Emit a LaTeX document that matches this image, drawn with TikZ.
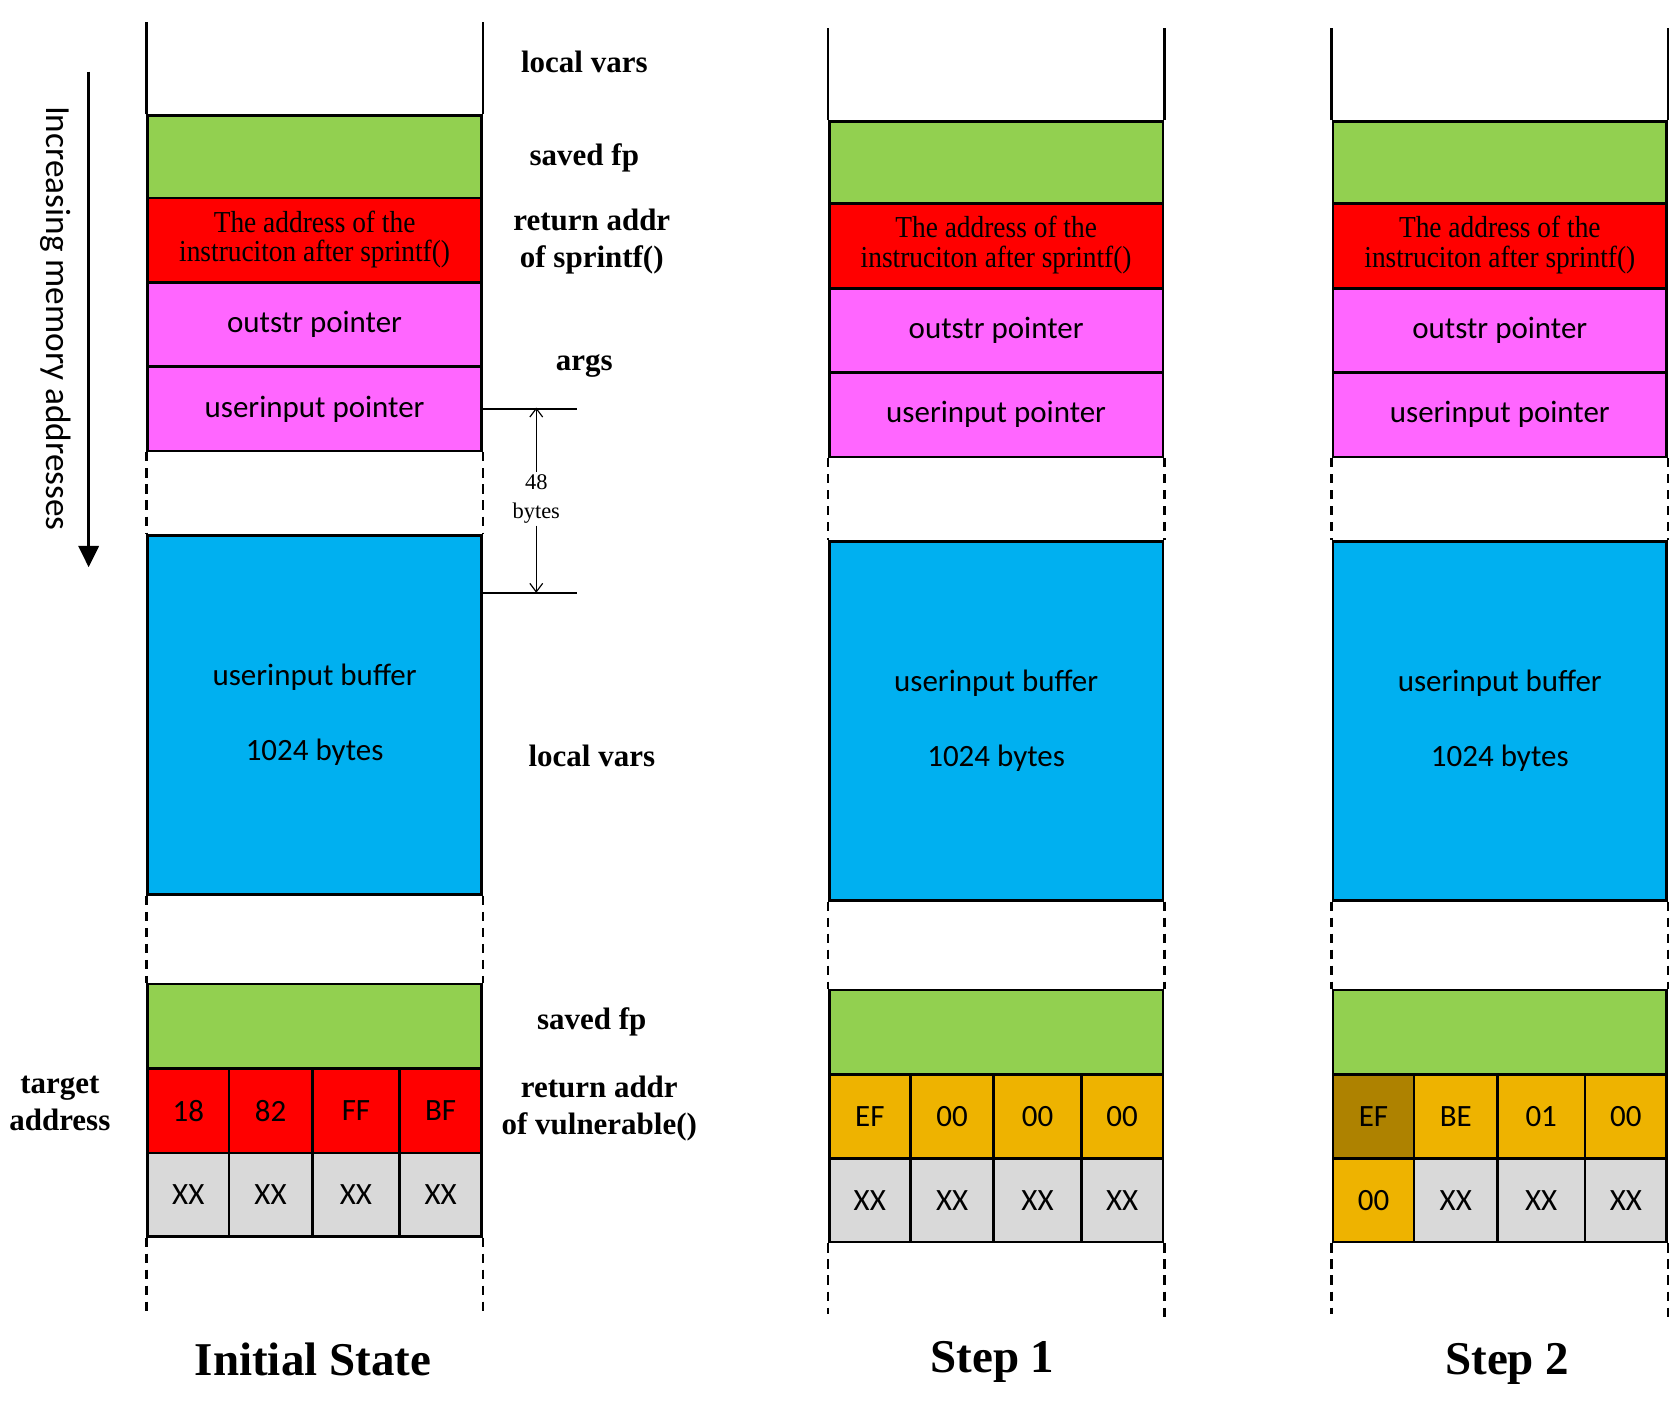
\documentclass[tikz,border=0pt]{standalone}
\usepackage{fontspec}
\usepackage{graphicx}
\setmainfont{Liberation Serif}
\newfontfamily\calfont{Carlito}
\usetikzlibrary{arrows.meta}
\definecolor{cgreen}{HTML}{92D050}
\definecolor{cred}{HTML}{FF0000}
\definecolor{cmag}{HTML}{FF66FF}
\definecolor{cblue}{HTML}{00B0F0}
\definecolor{cgray}{HTML}{D9D9D9}
\definecolor{cgold}{HTML}{EEB300}
\definecolor{cdgold}{HTML}{AE8200}
\newcommand\redtext{\scalebox{0.9}[1]{\rmfamily\fontsize{28.5}{25}\selectfont\begin{tabular}{@{}c@{}}The address of the\\instruciton after sprintf()\end{tabular}}}
\newcommand\bcell[7]{\node[blk, minimum width=#4pt, minimum height=#5pt, fill=#6] (#1) at (#2,#3) {#7};}
\newcommand\memcol[3]{%
\begin{scope}[shift={(#2,#3)}]
 \node[blk, fill=cgreen, minimum height=77pt] (#1sfp) at (0,107) {};
 \node[blk, fill=cred, minimum height=79pt] (#1ret) at (0,184) {\redtext};
 \node[blk, fill=cmag, minimum height=79pt] (#1out) at (0,263) {outstr pointer};
 \node[blk, fill=cmag, minimum height=79pt] (#1uin) at (0,342) {userinput pointer};
 \node[blk, fill=cblue, minimum height=336pt] (#1buf) at (0,500) {};
 \node[sans] (#1bufa) at ([yshift=35pt]#1buf.center) {userinput buffer};
 \node[sans] (#1bufb) at ([yshift=-35pt]#1buf.center) {1024 bytes};
 \node[blk, fill=cgreen, minimum height=79pt] (#1sfpb) at (0,920) {};
 \draw[side] (#1sfp.north west) -- ++(0,-86);
 \draw[side] (#1sfp.north east) -- ++(0,-86);
 \draw[dside] (#1uin.south west) -- (#1buf.north west);
 \draw[dside] (#1uin.south east) -- (#1buf.north east);
 \draw[dside] (#1buf.south west) -- (#1sfpb.north west);
 \draw[dside] (#1buf.south east) -- (#1sfpb.north east);
\end{scope}}
\begin{document}
\begin{tikzpicture}[x=1pt,y=-1pt,
  blk/.style={draw=black, line width=2.5pt, rectangle, inner sep=0pt, anchor=north west,
    minimum width=312.5pt, font=\calfont\fontsize{29}{34}\selectfont},
  sans/.style={font=\calfont\fontsize{29}{34}\selectfont, inner sep=0pt},
  side/.style={line width=2.5pt},
  dside/.style={line width=2.5pt, dash pattern=on 8.5pt off 6.5pt},
  lbl/.style={font=\bfseries\fontsize{29}{35}\selectfont, align=center, inner sep=0pt},
  ttl/.style={font=\bfseries\fontsize{44}{50}\selectfont, inner sep=0pt},
  dim/.style={line width=1.1pt},
  dimtip/.style={-{Straight Barb[length=8pt,width=12pt,line width=1.1pt]}}]
\useasboundingbox (0,0) rectangle (1568,1312.4);

% ---------- column 1: Initial State ----------
\memcol{a}{137}{0}
\begin{scope}[shift={(137,0)}]
 \bcell{a11}{0}{999}{76}{79}{cred}{18}
 \bcell{a12}{76}{999}{78}{79}{cred}{82}
 \bcell{a13}{154}{999}{82}{79}{cred}{FF}
 \bcell{a14}{236}{999}{76.5}{79}{cred}{BF}
 \bcell{a21}{0}{1078}{76}{78}{cgray}{XX}
 \bcell{a22}{76}{1078}{78}{78}{cgray}{XX}
 \bcell{a23}{154}{1078}{82}{78}{cgray}{XX}
 \bcell{a24}{236}{1078}{76.5}{78}{cgray}{XX}
 \draw[dside] (a21.south west) -- ++(0,69);
 \draw[dside] (a24.south east) -- ++(0,73);
\end{scope}

% ---------- column 2: Step 1 ----------
\memcol{b}{775}{5.5}
\begin{scope}[shift={(775,5.5)}]
 \bcell{b11}{0}{999}{76}{79}{cgold}{EF}
 \bcell{b12}{76}{999}{78}{79}{cgold}{00}
 \bcell{b13}{154}{999}{82}{79}{cgold}{00}
 \bcell{b14}{236}{999}{76.5}{79}{cgold}{00}
 \bcell{b21}{0}{1078}{76}{78}{cgray}{XX}
 \bcell{b22}{76}{1078}{78}{78}{cgray}{XX}
 \bcell{b23}{154}{1078}{82}{78}{cgray}{XX}
 \bcell{b24}{236}{1078}{76.5}{78}{cgray}{XX}
 \draw[dside] (b21.south west) -- ++(0,66);
 \draw[dside] (b24.south east) -- ++(0,70);
\end{scope}

% ---------- column 3: Step 2 ----------
\memcol{c}{1246.5}{5.5}
\begin{scope}[shift={(1246.5,5.5)}]
 \bcell{c11}{0}{999}{76}{79}{cdgold}{EF}
 \bcell{c12}{76}{999}{78}{79}{cgold}{BE}
 \bcell{c13}{154}{999}{82}{79}{cgold}{01}
 \bcell{c14}{236}{999}{76.5}{79}{cgold}{00}
 \bcell{c21}{0}{1078}{76}{78}{cgold}{00}
 \bcell{c22}{76}{1078}{78}{78}{cgray}{XX}
 \bcell{c23}{154}{1078}{82}{78}{cgray}{XX}
 \bcell{c24}{236}{1078}{76.5}{78}{cgray}{XX}
 \draw[dside] (c21.south west) -- ++(0,66);
 \draw[dside] (c24.south east) -- ++(0,70);
\end{scope}

% ---------- labels ----------
\node[lbl] (l1) at (547,58) {local vars};
\node[lbl] (l2) at (547,148) {saved fp};
\node[lbl] (l3) at (554,226) {return addr\\of sprintf()};
\node[lbl] (l4) at (547,343) {args};
\node[lbl] (l5) at (554,708) {local vars};
\node[lbl] (l6) at (554,957) {saved fp};
\node[lbl] (l7) at (561,1038) {return addr\\of vulnerable()};
\node[lbl] (l8) at (56,1033) {target\\address};
\node[ttl] (t1) at (293,1273) {Initial State};
\node[ttl] (t2) at (929,1275) {Step 1};
\node[ttl] (t3) at (1411,1277) {Step 2};

% ---------- memory direction arrow ----------
\coordinate (arrtop) at (83,67);
\coordinate (arrbot) at (83,531);
\draw[line width=2.5pt, -{Triangle[width=19pt,length=20pt]}] (arrtop) -- (arrbot);
\node[sans, rotate=-90, font=\calfont\fontsize{33}{38}\selectfont] (dir) at (52,298) {Increasing memory addresses};

% ---------- 48 bytes dimension ----------
\coordinate (d1r) at (540,381);
\coordinate (d2l) at (450,555);
\coordinate (d2r) at (540,555);
\draw[side] (auin.east) -- (auin.east -| d1r);
\draw[side] (d2l) -- (d2r);
\coordinate (dtop) at (502,381.5);
\coordinate (dbot) at (502,555);
\node[font=\fontsize{21}{27}\selectfont, align=center, inner sep=2pt] (dlbl) at (502,467) {48\\bytes};
\draw[dim, dimtip] (dlbl.north) -- (dtop);
\draw[dim, dimtip] (dlbl.south) -- (dbot);
\end{tikzpicture}
\end{document}
